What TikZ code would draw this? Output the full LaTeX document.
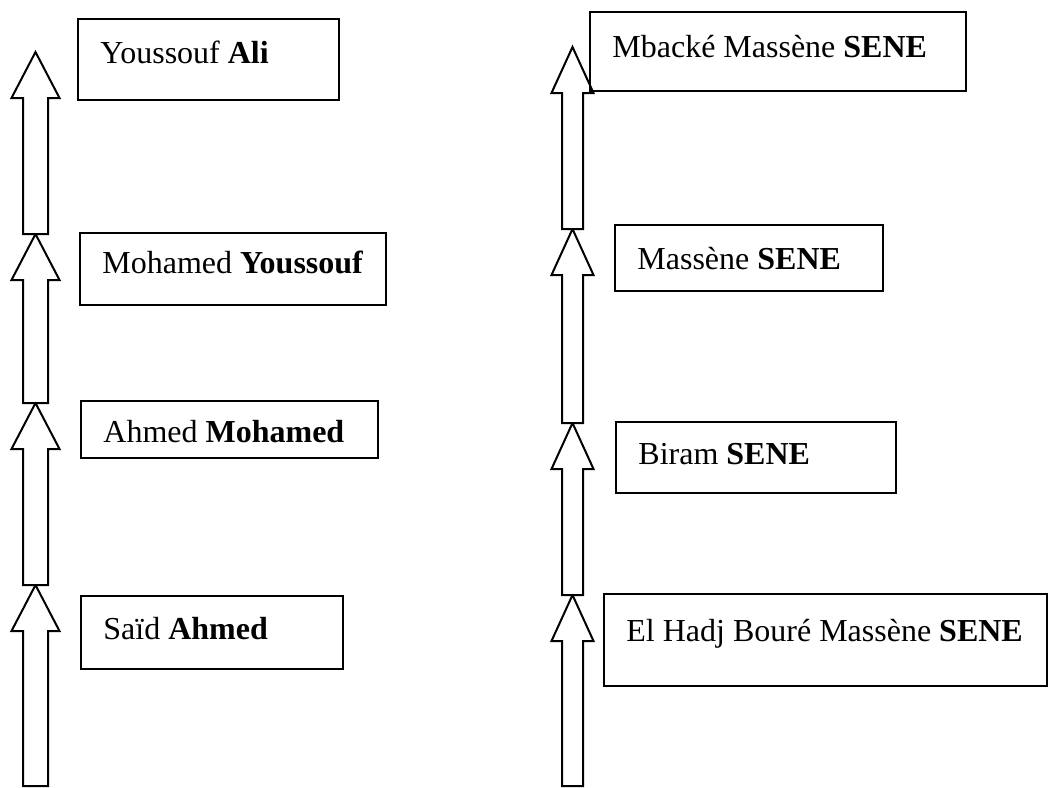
\documentclass[tikz,border=0pt]{standalone}
\usepackage{fontspec}
\setmainfont{Liberation Serif}
\usepackage{tikz}
\usetikzlibrary{calc}
\newcommand{\hd}{46}

\begin{document}
\begin{tikzpicture}[x=0.5pt,y=-0.5pt,
  namebox/.style={draw,line width=1pt},
  nametext/.style={anchor=base west,inner sep=0pt,font=\fontsize{16}{19}\selectfont},
  blockarrow/.style={draw,line width=1pt,fill=white,line join=miter}]
\useasboundingbox (0,0) rectangle (1048,787);
\coordinate (l0) at (35.5,786);
\coordinate (l1) at (35.5,585);
\coordinate (l2) at (35.5,403);
\coordinate (l3) at (35.5,234);
\coordinate (l4) at (35.5,52);
\coordinate (r0) at (572.5,786);
\coordinate (r1) at (572.5,595);
\coordinate (r2) at (572.5,423);
\coordinate (r3) at (572.5,229);
\coordinate (r4) at (572.5,47);
\foreach \a/\b/\s/\h in {l0/l1/12.5/24,l1/l2/12.5/24,l2/l3/12.5/24,l3/l4/12.5/24,
                         r0/r1/10.5/21,r1/r2/10.5/21,r2/r3/10.5/21,r3/r4/10.5/21}{
\draw[blockarrow] ($(\a)+(-\s,0)$) -- ($(\b)+(-\s,\hd)$) -- ($(\b)+(-\h,\hd)$) -- (\b)
  -- ($(\b)+(\h,\hd)$) -- ($(\b)+(\s,\hd)$) -- ($(\a)+(\s,0)$) -- cycle;
}
\draw[namebox] (78,19) rectangle (339,100);
\draw[namebox] (80,233) rectangle (386,305);
\draw[namebox] (81,401) rectangle (378,458);
\draw[namebox] (81,596) rectangle (343,669);
\draw[namebox] (590,12) rectangle (966,91);
\draw[namebox] (615,225) rectangle (883,291);
\draw[namebox] (616,422) rectangle (896,493);
\draw[namebox] (604,594) rectangle (1047,686);
\node[nametext] (ali) at (100,63) {Youssouf \textbf{Ali}};
\node[nametext] (youssouf) at (102,273) {Mohamed \textbf{Youssouf}};
\node[nametext] (mohamed) at (103,442) {Ahmed \textbf{Mohamed}};
\node[nametext] (ahmed) at (103,639) {Saïd \textbf{Ahmed}};
\node[nametext] (mbacke) at (612,57) {Mbacké Massène \textbf{SENE}};
\node[nametext] (massene) at (637,269) {Massène \textbf{SENE}};
\node[nametext] (biram) at (638,464) {Biram \textbf{SENE}};
\node[nametext] (boure) at (626,641) {El Hadj Bouré Massène \textbf{SENE}};
\end{tikzpicture}
\end{document}
